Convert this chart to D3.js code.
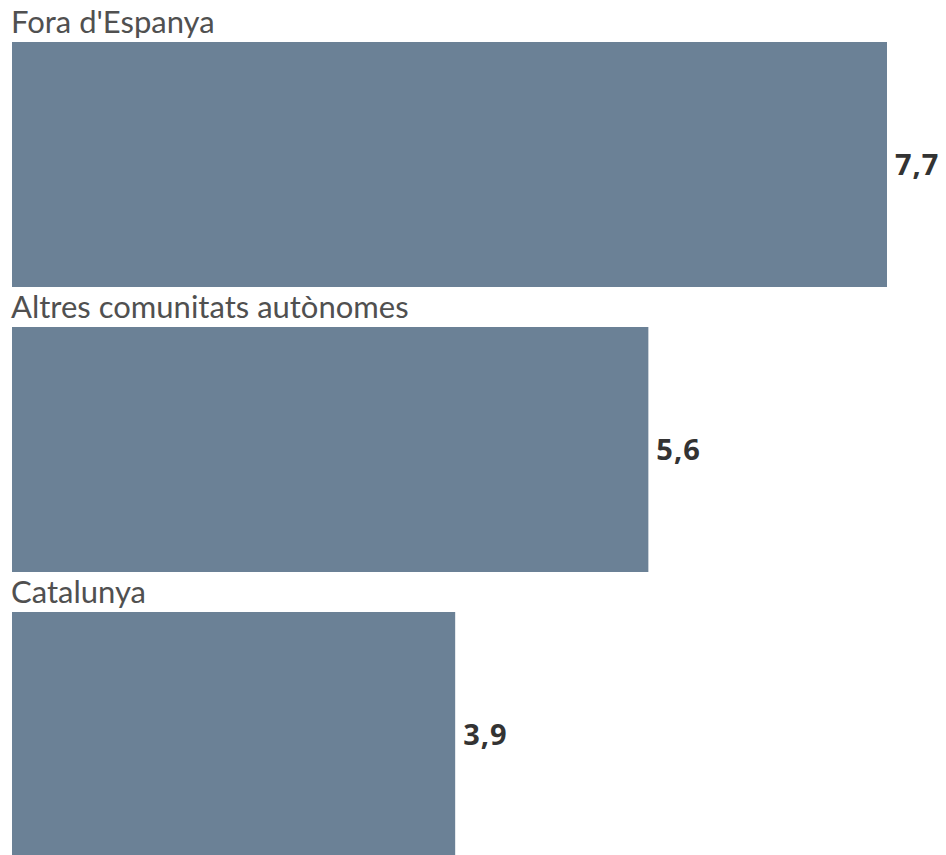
<!DOCTYPE html>
<html>
<head>
<meta charset="utf-8">
<script src="https://cdn.jsdelivr.net/npm/d3@7"></script>
<style>
  body { margin: 0; background: #fff; }
  svg { display: block; }
  .cat { font-family: Lato, sans-serif; font-size: 31px; fill: #505050; }
  .val { font-family: "Open Sans", sans-serif; font-weight: 700; font-size: 29px; letter-spacing: 1px; fill: #333; }
</style>
</head>
<body>
<svg></svg>
<script>
var categories = ["Fora d'Espanya", "Altres comunitats autònomes", "Catalunya"];
var values = [7.7, 5.6, 3.9];
var valueLabels = ["7,7", "5,6", "3,9"];

var width = 946, height = 855;

var svg = d3.select("svg")
    .attr("width", width)
    .attr("height", height);

var x = d3.scaleLinear()
    .domain([0, 7.7])
    .range([12, 887]);

var y = d3.scaleBand()
    .domain(categories)
    .range([0, 855])
    .paddingInner(0);

var labelSpace = 42, barH = 245;

var row = svg.selectAll("g.row")
    .data(categories)
  .enter().append("g")
    .attr("class", "row")
    .attr("transform", function(d) { return "translate(0," + y(d) + ")"; });

row.append("rect")
    .attr("x", x(0))
    .attr("y", labelSpace)
    .attr("width", function(d, i) { return x(values[i]) - x(0); })
    .attr("height", barH)
    .attr("fill", "#6b8196");

// category name above each bar
row.append("text")
    .attr("class", "cat")
    .attr("x", 11)
    .attr("y", labelSpace - 9)
    .text(function(d) { return d; });

// value at the end of the bar
row.append("text")
    .attr("class", "val")
    .attr("x", function(d, i) { return x(values[i]) + 8; })
    .attr("y", labelSpace + barH / 2)
    .attr("dy", ".35em")
    .text(function(d, i) { return valueLabels[i]; });
</script>
</body>
</html>
